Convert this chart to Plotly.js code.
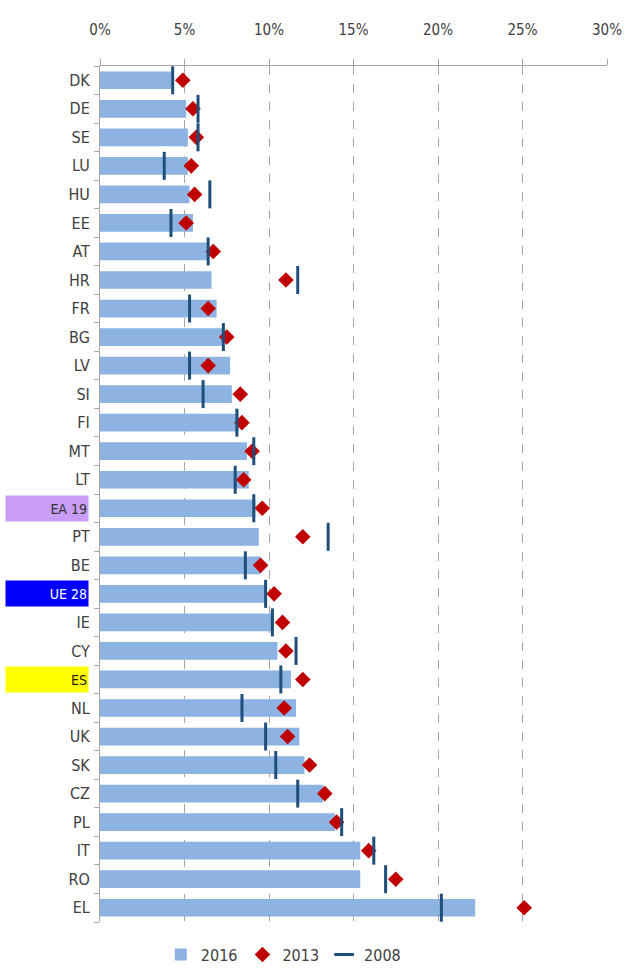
<!DOCTYPE html>
<html>
<head>
<meta charset="utf-8">
<script src="https://cdn.plot.ly/plotly-3.0.1.min.js"></script>
<style>html,body{margin:0;padding:0;background:#fff;}#chart{width:626px;height:969px;}</style>
</head>
<body>
<div id="chart"></div>
<script>
const countries = ["DK","DE","SE","LU","HU","EE","AT","HR","FR","BG","LV","SI","FI","MT","LT","EA 19","PT","BE","UE 28","IE","CY","ES","NL","UK","SK","CZ","PL","IT","RO","EL"];
const v2016 = [4.2,5.1,5.2,5.2,5.3,5.5,6.4,6.6,6.9,7.3,7.7,7.8,8.2,8.7,8.8,9.2,9.4,9.5,9.8,10.3,10.5,11.3,11.6,11.8,12.1,13.2,13.9,15.4,15.4,22.2];
const v2013 = [4.9,5.5,5.7,5.4,5.6,5.1,6.7,11.0,6.4,7.5,6.4,8.3,8.4,9.0,8.5,9.6,12.0,9.5,10.3,10.8,11.0,12.0,10.9,11.1,12.4,13.3,14.0,15.9,17.5,25.1];
const v2008 = [4.3,5.8,5.8,3.8,6.5,4.2,6.4,11.7,5.3,7.3,5.3,6.1,8.1,9.1,8.0,9.1,13.5,8.6,9.8,10.2,11.6,10.7,8.4,9.8,10.4,11.7,14.3,16.2,16.9,20.2];
const highlighted = [
  {cat:"EA 19", bg:"#C89CF7", color:"#333333"},
  {cat:"UE 28", bg:"#0000FF", color:"#FFFFFF"},
  {cat:"ES", bg:"#FFFF00", color:"#222222"}
];
const hlNames = highlighted.map(h => h.cat);
const tickText = countries.map(c => hlNames.includes(c) ? "" : c);

const font = "'DejaVu Sans Condensed','DejaVu Sans',sans-serif";

const traces = [
  {type:"bar", orientation:"h", name:"2016", x:v2016, y:countries,
   marker:{color:"#8DB3E2"}},
  {type:"scatter", mode:"markers", name:"2013", x:v2013, y:countries,
   marker:{symbol:"diamond", color:"#C00000", size:12}},
  {type:"scatter", mode:"markers", name:"2008", x:v2008, y:countries, showlegend:false,
   marker:{symbol:"line-ns-open", size:20, color:"#1F4E79", line:{color:"#1F4E79", width:3}}},
  {type:"scatter", mode:"markers", name:"2008", x:[null], y:[null], showlegend:true,
   marker:{symbol:"line-ew-open", size:14, color:"#1F4E79", line:{color:"#1F4E79", width:3}}}
];

const annotations = highlighted.map(h => ({
  xref:"paper", yref:"y", x:-0.187, xanchor:"left", y:h.cat, yanchor:"middle",
  text:h.cat, showarrow:false, align:"right", width:80, height:23, borderpad:1,
  bgcolor:h.bg, font:{family:font, size:14, color:h.color}
}));

const layout = {
  width:626, height:969,
  margin:{l:100, r:19, t:66, b:47, autoexpand:false},
  paper_bgcolor:"#fff", plot_bgcolor:"#fff",
  bargap:0.38,
  showlegend:true,
  legend:{orientation:"h", x:0.12, xanchor:"left", y:-0.038, yanchor:"middle",
    font:{family:font, size:16, color:"#404040"}, traceorder:"normal", itemwidth:30},
  xaxis:{side:"top", range:[0,30], dtick:5, ticksuffix:"%", showgrid:true,
    gridcolor:"#A6A6A6", griddash:"dash", gridwidth:1, zeroline:false,
    showline:true, linecolor:"#A6A6A6", ticks:"outside", ticklen:6, tickcolor:"#A6A6A6",
    ticklabelstandoff:18,
    tickfont:{family:font, size:15, color:"#404040"}, fixedrange:true},
  yaxis:{type:"category", range:[29.5,-0.5], showgrid:false, zeroline:false,
    tickmode:"array", tickvals:countries, ticktext:tickText,
    showline:true, linecolor:"#A6A6A6", ticks:"outside", tickson:"boundaries", ticklen:5,
    ticklabelstandoff:6,
    tickcolor:"#A6A6A6", tickfont:{family:font, size:16, color:"#404040"}, fixedrange:true},
  annotations:annotations
};

Plotly.newPlot("chart", traces, layout, {displayModeBar:false, staticPlot:true});
</script>
</body>
</html>
